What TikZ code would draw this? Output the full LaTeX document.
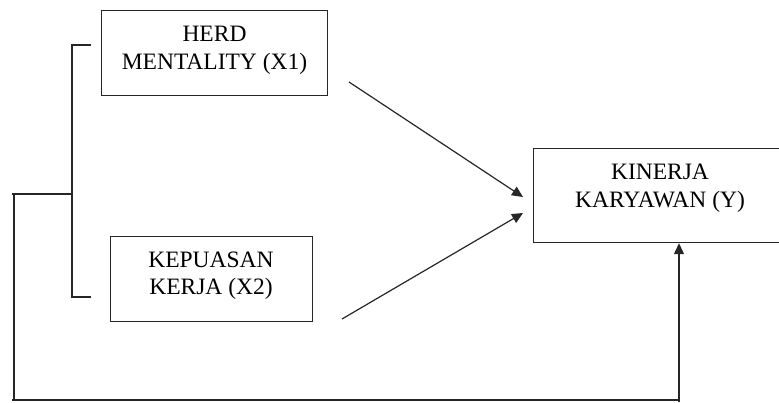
\documentclass[tikz,border=0pt]{standalone}
\usepackage{fontspec}
\setmainfont{Liberation Serif}
\usetikzlibrary{arrows.meta}
\begin{document}
\begin{tikzpicture}[x=1pt,y=-1pt,
  box/.style={draw=black!85, line width=1.2pt, inner sep=0pt, anchor=north west},
  lbl/.style={align=center, inner sep=0pt, font=\fontsize{23.5}{27.7}\selectfont, text=black},
  ln/.style={line width=1.2pt, draw=black!85},
  arr/.style={ln, -{Triangle[length=11pt,width=10pt]}}]
\useasboundingbox (0,0) rectangle (779,403);
\clip (0,0) rectangle (779,403);
% boxes
\node[box, minimum width=226pt, minimum height=85pt] (x1) at (101,10) {};
\node[box, minimum width=202pt, minimum height=85pt] (x2) at (110,236) {};
\node[box, minimum width=254pt, minimum height=94pt] (y) at (533,148) {};
% labels
\node[lbl] (t1) at (214.5,50.5) {HERD\\MENTALITY (X1)};
\node[lbl] (t2) at (211,275.7) {KEPUASAN\\KERJA (X2)};
\node[lbl] (t3) at (660,188.3) {KINERJA\\KARYAWAN (Y)};
% arrows to Y
\coordinate (a1s) at (349,82);
\coordinate (a1e) at (523,197);
\coordinate (a2s) at (342,319);
\coordinate (a2e) at (523,213);
\draw[arr] (a1s) -- (a1e);
\draw[arr] (a2s) -- (a2e);
% bracket
\coordinate (bt) at (91,45);
\coordinate (bb) at (91,297);
\coordinate (bx) at (72,194);
\draw[ln] (bt) -- (bt -| bx) -- (bb -| bx) -- (bb);
\coordinate (bl) at (12,194);
\draw[ln] (bx) -- (bl);
% feedback line
\coordinate (fl) at (14,194);
\coordinate (fc) at (14,400);
\coordinate (fr) at (679,400);
\coordinate (fb) at (679,401.5);
\draw[ln] (fl) -- (fc);
\draw[ln] (12,400) -- (fr);
\draw[arr] (fb) -- (fb |- y.south);
\end{tikzpicture}
\end{document}
